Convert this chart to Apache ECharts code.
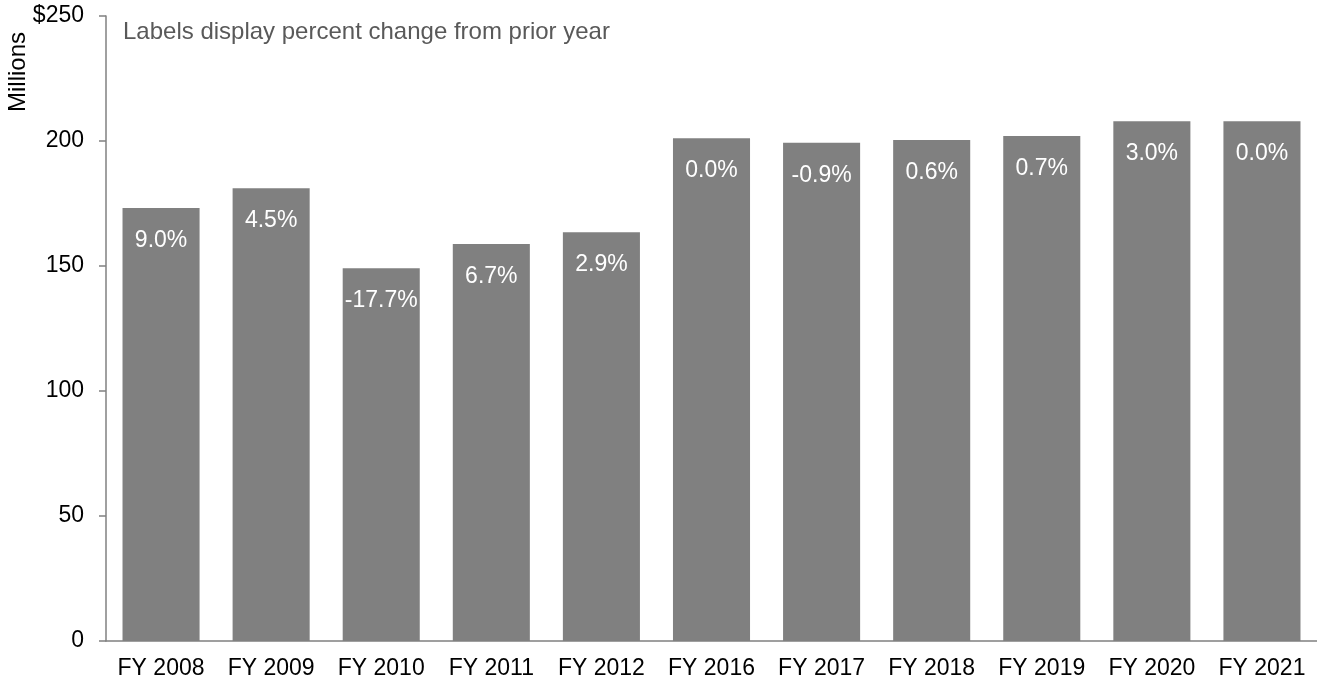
<!DOCTYPE html>
<html>
<head>
<meta charset="utf-8">
<script src="https://cdn.jsdelivr.net/npm/echarts@6/dist/echarts.min.js"></script>
<style>
html,body{margin:0;padding:0;background:#fff;}
#chart{width:1317px;height:683px;}
</style>
</head>
<body>
<div id="chart"></div>
<script>
const categories = ["FY 2008","FY 2009","FY 2010","FY 2011","FY 2012","FY 2016","FY 2017","FY 2018","FY 2019","FY 2020","FY 2021"];
const values = [173.2, 181.1, 149.1, 158.8, 163.5, 201.1, 199.3, 200.4, 202.0, 207.9, 207.9];
const pctLabels = ["9.0%","4.5%","-17.7%","6.7%","2.9%","0.0%","-0.9%","0.6%","0.7%","3.0%","0.0%"];
const yTicks = [0, 50, 100, 150, 200, 250];

const chart = echarts.init(document.getElementById('chart'));
const FONT = '"Liberation Sans", Arial, sans-serif';
chart.setOption({
  animation: false,
  textStyle: { fontFamily: FONT },
  grid: { left: 106, right: -3, top: 16, bottom: 42, containLabel: false },
  title: {
    text: 'Labels display percent change from prior year',
    left: 118, top: 15,
    textStyle: { fontFamily: FONT, fontSize: 24, fontWeight: 'normal', color: '#595959' }
  },
  graphic: [{
    type: 'text', left: 6, top: 32, rotation: Math.PI / 2,
    style: { text: 'Millions', font: '24px ' + FONT, fill: '#000' }
  }],
  xAxis: {
    type: 'category', data: categories,
    axisLine: { show: true, lineStyle: { color: '#808080', width: 1.5 } },
    axisTick: { show: false },
    axisLabel: { color: '#000', fontSize: 23, margin: 16, fontFamily: FONT, interval: 0, hideOverlap: false }
  },
  yAxis: {
    type: 'value', min: 0, max: 250, interval: 50,
    splitLine: { show: false },
    axisLine: { show: true, lineStyle: { color: '#808080', width: 1.5 } },
    axisTick: { show: true, length: 7, lineStyle: { color: '#808080', width: 1.5 } },
    axisLabel: {
      color: '#000', fontSize: 23, margin: 22, fontFamily: FONT,
      formatter: v => v === yTicks[yTicks.length - 1] ? '$' + v : String(v)
    }
  },
  series: [{
    type: 'bar', data: values, barCategoryGap: '30%',
    itemStyle: { color: '#808080' },
    label: {
      show: true, position: 'insideTop', distance: 21,
      color: '#fff', fontSize: 23, fontFamily: FONT,
      formatter: p => pctLabels[p.dataIndex]
    }
  }]
});
</script>
</body>
</html>
